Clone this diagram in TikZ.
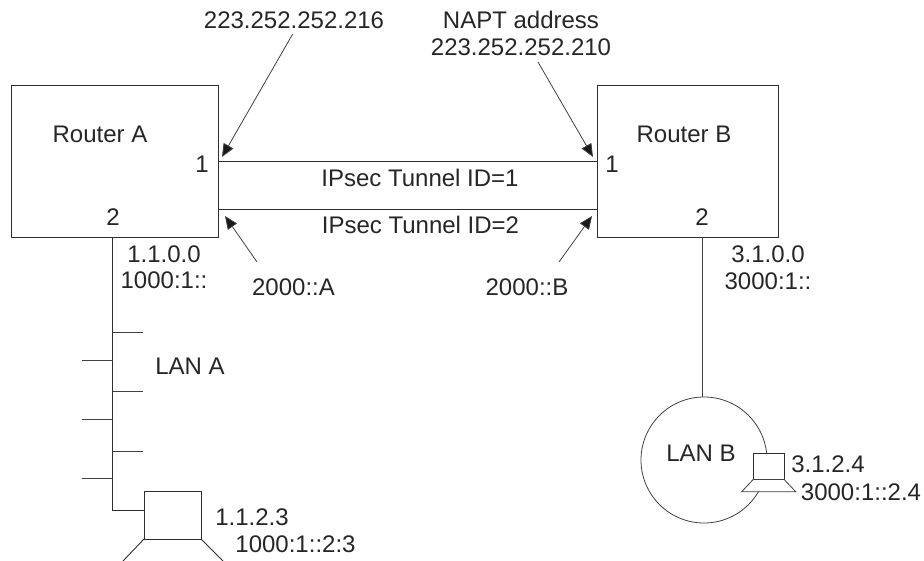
\documentclass[tikz,border=0pt]{standalone}
\usepackage{fontspec}
\setmainfont{Liberation Sans}
\usetikzlibrary{arrows.meta}
\tikzset{
  x=1pt,y=-1pt,
  ink/.style={draw=black!82,line width=0.9pt},
  thin ink/.style={draw=black!75,line width=0.8pt},
  box/.style={ink,fill=white,rectangle,inner sep=0pt,outer sep=0pt},
  lbl/.style={inner sep=0pt,outer sep=0pt,text=black!85,font=\fontsize{24pt}{28pt}\selectfont},
  pointer/.style={thin ink,-{Triangle[length=13pt,width=11pt,fill=black!90]}},
}
\begin{document}
\begin{tikzpicture}
\useasboundingbox (0,0) rectangle (924,561);
\node[box,minimum width=207pt,minimum height=152pt] (ra) at (114.5,161) {};
\node[box,minimum width=181pt,minimum height=152pt] (rb) at (687.5,161) {};
% tunnels
\coordinate (a1) at (218,161.5); \coordinate (b1) at (597,161.5);
\coordinate (a2) at (218,209.5); \coordinate (b2) at (597,209.5);
\draw[ink] (a1) -- (b1);
\draw[ink] (a2) -- (b2);
% pointers
\coordinate (p1s) at (292.7,34); \coordinate (p1e) at (222,157);
\coordinate (p2s) at (257,262); \coordinate (p2e) at (225,216);
\coordinate (p3s) at (538,62); \coordinate (p3e) at (593,157);
\coordinate (p4s) at (559,262); \coordinate (p4e) at (592,216);
\draw[pointer] (p1s) -- (p1e);
\draw[pointer] (p2s) -- (p2e);
\draw[pointer] (p3s) -- (p3e);
\draw[pointer] (p4s) -- (p4e);
% LAN A
\coordinate (la0) at (112.5,237); \coordinate (la1) at (112.5,510);
\node[box,minimum width=57pt,minimum height=48pt] (pca) at (172.5,515) {};
\draw[ink] (la0) -- (la1) -- (la1 -| pca.west);
\coordinate (s1a) at (112.5,332); \coordinate (s1b) at (143,332);
\coordinate (s2a) at (112.5,360); \coordinate (s2b) at (81.5,360);
\coordinate (s3a) at (112.5,391.5); \coordinate (s3b) at (143,391.5);
\coordinate (s4a) at (112.5,419); \coordinate (s4b) at (81.5,419);
\coordinate (s5a) at (112.5,451); \coordinate (s5b) at (143,451);
\coordinate (s6a) at (112.5,478); \coordinate (s6b) at (81.5,478);
\foreach \i in {1,...,6} \draw[thin ink] (s\i a) -- (s\i b);
\coordinate (l1) at (123,561); \coordinate (l2) at (223,561);
\draw[ink] (pca.south west) -- (l1);
\draw[ink] (pca.south east) -- (l2);
% LAN B
\node[thin ink,circle,minimum size=126pt,inner sep=0pt,outer sep=0pt] (lanb) at (704,460) {};
\coordinate (rb2) at (702,237); \coordinate (lb2) at (702,397);
\draw[thin ink] (rb2) -- (lb2);
\node[box,line width=0.8pt,minimum width=31pt,minimum height=26pt] (pcb) at (768.7,466.5) {};
\coordinate (tl) at (741.7,491.7); \coordinate (tr) at (795.7,491.7);
\draw[thin ink,fill=white] (pcb.south west) -- (tl) -- (tr) -- (pcb.south east) -- cycle;
% labels
\node[lbl] (t1) at (294,20) {223.252.252.216};
\node[lbl] (t2) at (521,20) {NAPT address};
\node[lbl] (t3) at (521,47) {223.252.252.210};
\node[lbl] (t4) at (100,134) {Router A};
\node[lbl] (t5) at (684,134) {Router B};
\node[lbl] (t6) at (202,164) {1};
\node[lbl] (t7) at (113,217) {2};
\node[lbl] (t8) at (612,164) {1};
\node[lbl] (t9) at (702,217) {2};
\node[lbl] (t10) at (420,178) {IPsec Tunnel ID=1};
\node[lbl] (t11) at (420.5,225) {IPsec Tunnel ID=2};
\node[lbl] (t12) at (164,254) {1.1.0.0};
\node[lbl] (t13) at (164,280) {1000:1::};
\node[lbl] (t14) at (293.5,287) {2000::A};
\node[lbl] (t15) at (527,287) {2000::B};
\node[lbl] (t16) at (768,254) {3.1.0.0};
\node[lbl] (t17) at (768,281) {3000:1::};
\node[lbl] (t18) at (190,366) {LAN A};
\node[lbl] (t19) at (701,453) {LAN B};
\node[lbl] (t20) at (828,464) {3.1.2.4};
\node[lbl] (t21) at (861,492) {3000:1::2.4};
\node[lbl] (t22) at (252,517) {1.1.2.3};
\node[lbl] (t23) at (295.5,544) {1000:1::2:3};
\end{tikzpicture}
\end{document}
